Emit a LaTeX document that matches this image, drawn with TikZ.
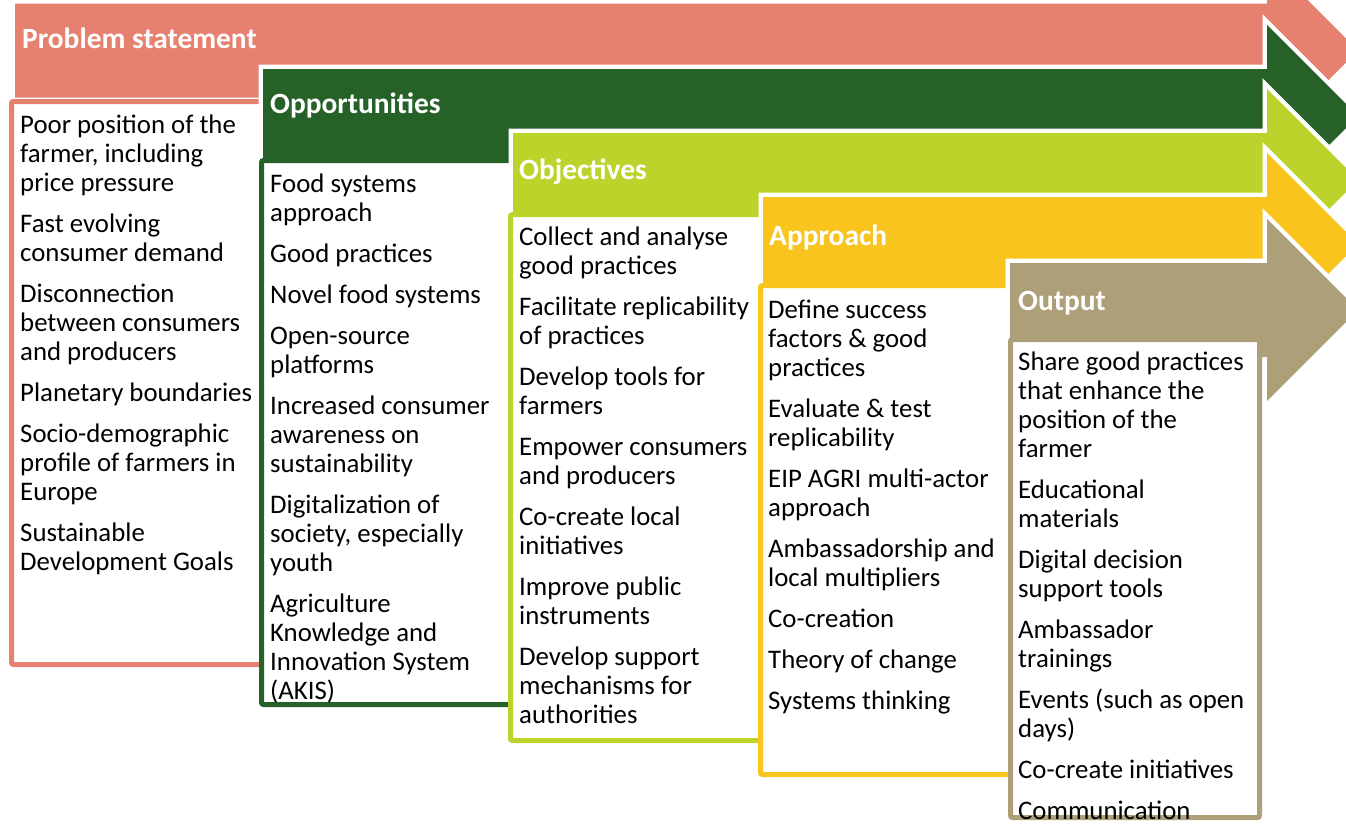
\documentclass[tikz,border=0pt]{standalone}
\usepackage{fontspec}
\setmainfont{Carlito}
\definecolor{cPink}{HTML}{E6806F}
\definecolor{cGreen}{HTML}{266128}
\definecolor{cLime}{HTML}{BCD32B}
\definecolor{cYellow}{HTML}{F8C41D}
\definecolor{cTan}{HTML}{ADA078}
% block arrow: colour, left x, centre y
\newcommand\blockarrow[3]{%
  \draw[white, line width=9pt, line join=miter]
    (#2,#3-47) -- (1267,#3-47) -- (1267,#3-91) -- (1358,#3) -- (1267,#3+91) -- (1267,#3+47) -- (#2,#3+47) -- cycle;
  \fill[#1]
    (#2,#3-47) -- (1267,#3-47) -- (1267,#3-91) -- (1358,#3) -- (1267,#3+91) -- (1267,#3+47) -- (#2,#3+47) -- cycle;
}
% framed text panel: colour, outer corners
\newcommand\panel[5]{%
  \draw[#1, line width=5pt, fill=white, rounded corners=2pt]
    (#2+2.5,#3+2.5) rectangle (#4-2.5,#5-2.5);
}
% list of items, first baseline at the node's base
\newcommand\itemlist[1]{\parbox[t]{280pt}{\raggedright\fontsize{26.8}{29}\selectfont #1}}
\begin{document}
\begin{tikzpicture}[x=1pt,y=-1pt,
  hdr/.style={font=\fontsize{29.4}{32}\selectfont\bfseries, text=white, anchor=base west, inner sep=0pt},
  body/.style={anchor=base west, inner sep=0pt, text=black}]
\useasboundingbox (0,0) rectangle (1346,823);
\begin{scope}
\clip (0,0) rectangle (1346,823);
\blockarrow{cPink}{15}{50.5}
\panel{cPink}{9}{99}{265}{667}
\blockarrow{cGreen}{263}{116}
\panel{cGreen}{259}{158}{515}{707}
\blockarrow{cLime}{513}{180}
\panel{cLime}{508}{212}{765}{743}
\blockarrow{cYellow}{763}{244}
\panel{cYellow}{758}{283}{1015}{777}
\blockarrow{cTan}{1010}{310}
\panel{cTan}{1008}{337}{1262}{820}
\end{scope}

\node[hdr] (h1) at (22,48) {Problem statement};
\node[hdr] (h2) at (270,113) {Opportunities};
\node[hdr] (h3) at (519,179) {Objectives};
\node[hdr] (h4) at (769,245) {Approach};
\node[hdr] (h5) at (1018,310) {Output};

\node[body] (t1) at (20,133) {\itemlist{Poor position of the\\ farmer, including\\ price pressure\\[12pt]
Fast evolving\\ consumer demand\\[12pt]
Disconnection\\ between consumers\\ and producers\\[12pt]
Planetary boundaries\\[12pt]
Socio-demographic\\ profile of farmers in\\ Europe\\[12pt]
Sustainable\\ Development Goals}};

\node[body] (t2) at (270,192) {\itemlist{Food systems\\ approach\\[12pt]
Good practices\\[12pt]
Novel food systems\\[12pt]
Open-source\\ platforms\\[12pt]
Increased consumer\\ awareness on\\ sustainability\\[12pt]
Digitalization of\\ society, especially\\ youth\\[12pt]
Agriculture\\ Knowledge and\\ Innovation System\\ (AKIS)}};

\node[body] (t3) at (519,245) {\itemlist{Collect and analyse\\ good practices\\[12pt]
Facilitate replicability\\ of practices\\[12pt]
Develop tools for\\ farmers\\[12pt]
Empower consumers\\ and producers\\[12pt]
Co-create local\\ initiatives\\[12pt]
Improve public\\ instruments\\[12pt]
Develop support\\ mechanisms for\\ authorities}};

\node[body] (t4) at (768,318) {\itemlist{Define success\\ factors \& good\\ practices\\[12pt]
Evaluate \& test\\ replicability\\[12pt]
EIP AGRI multi-actor\\ approach\\[12pt]
Ambassadorship and\\ local multipliers\\[12pt]
Co-creation\\[12pt]
Theory of change\\[12pt]
Systems thinking}};

\node[body] (t5) at (1018,370) {\itemlist{Share good practices\\ that enhance the\\ position of the\\ farmer\\[12pt]
Educational\\ materials\\[12pt]
Digital decision\\ support tools\\[12pt]
Ambassador\\ trainings\\[12pt]
Events (such as open\\ days)\\[12pt]
Co-create initiatives\\[12pt]
Communication}};
\end{tikzpicture}
\end{document}
